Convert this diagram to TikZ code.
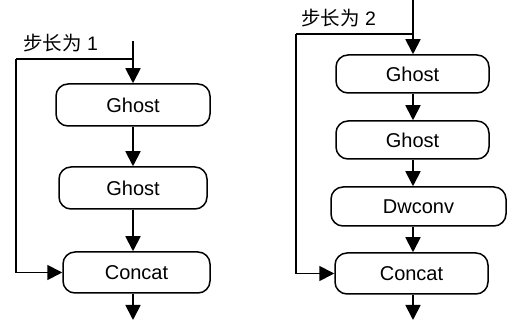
\documentclass[tikz,border=0pt]{standalone}
\usepackage{fontspec}
\setmainfont{Liberation Sans}
\newfontfamily\cjk{Noto Sans CJK SC}
\usetikzlibrary{arrows.meta}
\begin{document}
\begin{tikzpicture}[x=1pt,y=-1pt,
  blk/.style={draw,line width=1.5pt,rounded corners=12pt,minimum height=40pt,inner sep=0pt,font=\fontsize{20}{21}\selectfont},
  arr/.style={line width=1.8pt,-{Triangle[length=15pt,width=15pt]}},
  ln/.style={line width=1.8pt},
  lab/.style={anchor=west,inner sep=0pt,font=\fontsize{19.5}{20}\selectfont}]
\useasboundingbox (0,0) rectangle (507,320);
% left column
\node[blk,minimum width=154pt,minimum height=42pt] (la) at (133,105) {Ghost};
\node[blk,minimum width=148pt,minimum height=42pt] (lb) at (133,188) {Ghost};
\node[blk,minimum width=147pt,minimum height=41pt] (lc) at (136.5,272.5) {Concat};
\coordinate (lt) at (133,41);
\coordinate (lbr) at (133,59);
\coordinate (lcorner) at (16,59);
\coordinate (lend) at (133,320);
\node[lab] (l1) at (23,43) {{\cjk 步长为} 1};
\draw[arr] (lt) -- (lt |- la.north);
\draw[ln] (lbr) -- (lcorner);
\draw[arr] (lcorner) |- (lc.west);
\draw[arr] (lt |- la.south) -- (lt |- lb.north);
\draw[arr] (lt |- lb.south) -- (lt |- lc.north);
\draw[arr] (lt |- lc.south) -- (lend);
% right column
\node[blk,minimum width=153pt,minimum height=38pt] (ra) at (412.5,74) {Ghost};
\node[blk,minimum width=153pt,minimum height=38pt] (rb) at (412.5,140) {Ghost};
\node[blk,minimum width=175pt,minimum height=39pt] (rc) at (418.5,206.5) {Dwconv};
\node[blk,minimum width=153pt,minimum height=41pt] (rd) at (411.5,273.5) {Concat};
\coordinate (rt) at (413,0);
\coordinate (rbr) at (413,34);
\coordinate (rcorner) at (296,34);
\coordinate (rend) at (413,320);
\node[lab] (l2) at (301,18) {{\cjk 步长为} 2};
\draw[arr] (rt) -- (rt |- ra.north);
\draw[ln] (rbr) -- (rcorner);
\draw[arr] (rcorner) |- (rd.west);
\draw[arr] (rt |- ra.south) -- (rt |- rb.north);
\draw[arr] (rt |- rb.south) -- (rt |- rc.north);
\draw[arr] (rt |- rc.south) -- (rt |- rd.north);
\draw[arr] (rt |- rd.south) -- (rend);
\end{tikzpicture}
\end{document}
